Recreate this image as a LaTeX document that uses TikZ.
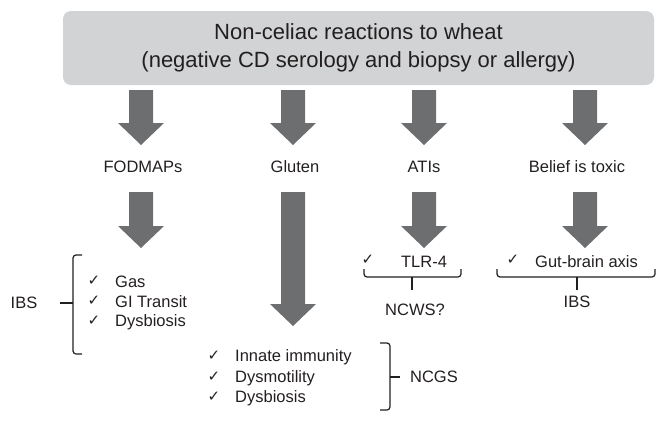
\documentclass[tikz,border=0pt]{standalone}
\usepackage{fontspec}
\setmainfont{Liberation Sans}
\newfontfamily\symfont{DejaVu Sans}
\definecolor{boxgray}{HTML}{D1D3D4}
\definecolor{arrgray}{HTML}{6D6E70}
\definecolor{txt}{HTML}{231F20}
\newcommand\blkarrow[3]{% cx, ytop, ytip
  \fill[arrgray] (#1-12,#2) -- (#1+12,#2) -- (#1+12,#3-22) -- (#1+23,#3-22) -- (#1,#3) -- (#1-23,#3-22) -- (#1-12,#3-22) -- cycle;}
\tikzset{
  lbl/.style={text=txt, inner sep=0pt, font=\fontsize{16.5}{19}\selectfont},
  item/.style={lbl, anchor=west},
  chk/.style={text=txt, inner sep=0pt, font=\symfont\fontsize{15}{17}\selectfont},
  brk/.style={draw=txt, line width=1.2pt, rounded corners=3pt},
}
\begin{document}
\begin{tikzpicture}[x=1pt,y=-1pt]
\useasboundingbox (0,0) rectangle (668,423);
% header
\node[fill=boxgray, rounded corners=8pt, minimum width=591pt, minimum height=74pt, inner sep=0pt] (head) at (358.5,48) {};
\node[text=txt, align=center, font=\fontsize{22}{28}\selectfont] (headtxt) at (head.center) {Non-celiac reactions to wheat\\(negative CD serology and biopsy or allergy)};
% first row arrows
\blkarrow{141}{90}{145}
\blkarrow{293}{90}{145}
\blkarrow{424}{90}{145}
\blkarrow{585}{90}{145}
% labels
\node[lbl] (fod) at (143,167) {FODMAPs};
\node[lbl] (glu) at (295,167) {Gluten};
\node[lbl] (ati) at (424,167) {ATIs};
\node[lbl] (bel) at (577,167) {Belief is toxic};
% second row arrows
\blkarrow{141}{192}{248}
\blkarrow{293}{192}{326}
\blkarrow{424}{192}{248}
\blkarrow{585}{192}{248}
% FODMAPs list
\node[chk] (c1) at (94,281) {✓};
\node[item] (gas) at (115,282) {Gas};
\node[chk] (c2) at (94,301) {✓};
\node[item] (git) at (115,302) {GI Transit};
\node[chk] (c3) at (94,321) {✓};
\node[item] (dys1) at (115,322) {Dysbiosis};
\draw[brk] (82,255) -- (73,255) -- (73,354) -- (82,354);
\draw[brk] (73,303) -- (60,303);
\node[lbl] (ibs1) at (24,303) {IBS};
% Gluten list
\node[chk] (c4) at (214,356) {✓};
\node[item] (inn) at (235,357) {Innate immunity};
\node[chk] (c5) at (214,377) {✓};
\node[item] (dym) at (235,378) {Dysmotility};
\node[chk] (c6) at (214,397) {✓};
\node[item] (dys2) at (235,398) {Dysbiosis};
\draw[brk] (380,343) -- (390,343) -- (390,410) -- (380,410);
\draw[brk] (390,377) -- (400,377);
\node[lbl] (ncgs) at (434,377) {NCGS};
% ATIs
\node[chk] (c7) at (368,260) {✓};
\node[lbl] (tlr) at (424,262) {TLR-4};
\draw[brk] (364,269) -- (364,277) -- (461,277) -- (461,269);
\draw[brk] (412,277) -- (412,290);
\node[lbl] (ncws) at (415,310) {NCWS?};
% Belief
\node[chk] (c8) at (513,260) {✓};
\node[item] (gba) at (535,262) {Gut-brain axis};
\draw[brk] (497,269) -- (497,277) -- (655,277) -- (655,269);
\draw[brk] (577,277) -- (577,290);
\node[lbl] (ibs2) at (577,302) {IBS};
\end{tikzpicture}
\end{document}
